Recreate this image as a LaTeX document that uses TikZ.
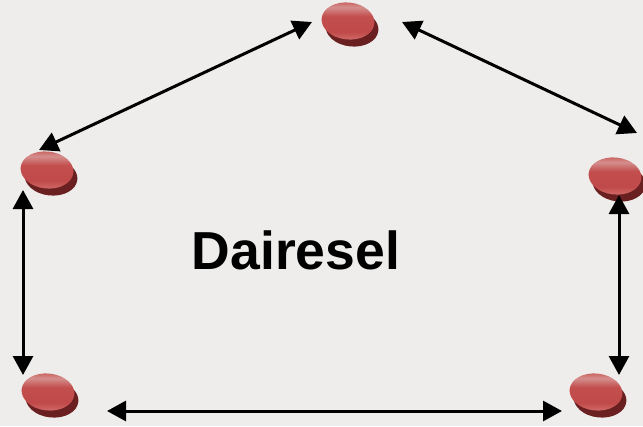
\documentclass[tikz,border=0pt]{standalone}
\usepackage{fontspec}
\setmainfont{Liberation Sans}
\usetikzlibrary{arrows.meta,shapes.geometric,shadows,calc}
\definecolor{bgc}{HTML}{EEEDEB}
\definecolor{discRim}{HTML}{6A2020}
\definecolor{discA}{HTML}{CF6866}
\definecolor{discB}{HTML}{BF4A49}
\definecolor{discC}{HTML}{C24E4D}
\definecolor{discD}{HTML}{D58F8D}
\definecolor{discE}{HTML}{C85C5A}
\pgfdeclareverticalshading{discgrad}{100bp}{
  color(0bp)=(discA);
  color(25bp)=(discA);
  color(35bp)=(discB);
  color(55bp)=(discC);
  color(67bp)=(discD);
  color(75bp)=(discE);
  color(100bp)=(discE)}
\tikzset{
  disc/.style={ellipse,minimum width=53pt,minimum height=37pt,inner sep=0pt,rotate=-6,
    shading=discgrad,
    general shadow={fill=discRim,shadow xshift=4pt,shadow yshift=-7pt}},
  link/.style={line width=3pt,black,{Triangle[length=19pt,width=20pt]}-{Triangle[length=19pt,width=20pt]}},
  title/.style={font=\fontsize{53.5pt}{60pt}\selectfont\bfseries,text=black,inner sep=0pt}
}
\begin{document}
\begin{tikzpicture}[x=1pt,y=-1pt]
\useasboundingbox (0,0) rectangle (643,426);
\clip (0,0) rectangle (643,426);
\fill[bgc] (0,0) rectangle (643,426);
\node[disc] (top) at (348,21) {};
\node[disc] (left) at (47,170) {};
\node[disc] (right) at (615,176) {};
\node[disc] (bl) at (48,392) {};
\node[disc] (br) at (596,392) {};
\node[title] (label) at (296,250) {Dairesel};
\draw[link] ($(top)+(-36,1)$) -- ($(left)+(-8,-20)$);
\draw[link] ($(top)+(54,1)$) -- ($(right)+(22,-43)$);
\draw[link] ($(left)+(-24,20)$) -- ($(bl)+(-25,-17)$);
\draw[link] ($(right)+(4,19)$) -- ($(br)+(23,-17)$);
\draw[link] ($(bl)+(59,19)$) -- ($(br)+(-34,19)$);
\end{tikzpicture}
\end{document}
